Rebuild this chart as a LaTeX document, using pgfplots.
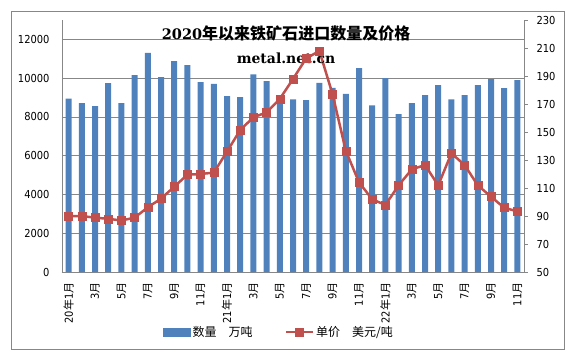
\documentclass[border=0pt]{standalone}
\usepackage{pgfplots}
\pgfplotsset{compat=1.18}
\usepackage{fontspec}
\setmainfont{DejaVu Sans Condensed}
\newfontfamily\cjk{Noto Sans CJK SC}
\newfontfamily\dserif{DejaVu Serif}
\definecolor{barblue}{HTML}{4F81BD}
\definecolor{linered}{HTML}{C0504D}
\definecolor{gridgray}{HTML}{878787}
\newcommand\Y{{\cjk 年}}
\newcommand\M{{\cjk 月}}
\pgfplotsset{
  mylineleg/.style={legend image code/.code={\draw[##1, mark repeat=2, mark phase=2] plot coordinates {(0pt,0pt) (13.5pt,0pt) (27pt,0pt)};}},
  mybarleg/.style={legend image code/.code={\fill[barblue] (0pt,-4pt) rectangle (27pt,4pt);}},
}
\begin{document}
\begin{tikzpicture}
\begin{axis}[name=ax1, scale only axis, width=462pt, height=252pt,
  xmin=-0.5, xmax=34.5, ymin=0, ymax=13000,
  axis x line*=bottom, axis y line*=left,
  axis line style={gridgray, line width=0.8pt, -},
  ybar, bar width=6pt,
  ytick={0,2000,...,12000},
  ymajorgrids, grid style={gridgray, line width=0.8pt},
  major tick length=0pt,
  scaled y ticks=false,
  yticklabel style={/pgf/number format/1000 sep={}, font=\fontsize{11}{11}\selectfont},
  /pgf/number format/assume math mode=true,
  yticklabel shift=9pt,
  xtick={0,2,...,34},
  xticklabels={20\Y1\M, 3\M, 5\M, 7\M, 9\M, 11\M, 21\Y1\M, 3\M, 5\M, 7\M, 9\M, 11\M, 22\Y1\M, 3\M, 5\M, 7\M, 9\M, 11\M},
  xticklabel style={rotate=90, anchor=east, font=\fontsize{11}{11}\selectfont},
  xticklabel shift=7pt,
]
\addplot[fill=barblue, draw=none] coordinates {
(0,8950) (1,8710) (2,8560) (3,9750) (4,8710) (5,10150) (6,11300) (7,10050)
(8,10880) (9,10670) (10,9800) (11,9700) (12,9070) (13,9020) (14,10200) (15,9850)
(16,8780) (17,8900) (18,8870) (19,9760) (20,9500) (21,9190) (22,10520) (23,8600)
(24,10000) (25,8150) (26,8710) (27,9120) (28,9640) (29,8900) (30,9130) (31,9640)
(32,9950) (33,9490) (34,9900)};
\end{axis}
\begin{axis}[scale only axis, width=462pt, height=252pt,
  xmin=-0.5, xmax=34.5, ymin=50, ymax=230,
  axis y line*=right, axis x line=none,
  axis line style={gridgray, line width=0.8pt, -},
  ytick={50,70,...,230},
  tick align=outside, major tick length=4pt,
  tick style={gridgray, line width=0.8pt},
  yticklabel style={font=\fontsize{11}{11}\selectfont},
  /pgf/number format/assume math mode=true,
  yticklabel shift=5pt,
  legend columns=2,
  legend style={draw=none, fill=none, at={(0.47,-0.238)}, anchor=center,
    font=\cjk\fontsize{12}{12}\selectfont,
    /tikz/every even column/.append style={column sep=30pt}},
]
\addlegendimage{mybarleg}
\addlegendentry{数量\hspace{1em}万吨}
\addplot[color=linered, line width=2.5pt, mark=square*, mark size=4pt,
  mark options={solid, fill=linered, line width=0.5pt}, mylineleg]
coordinates {
(0,90) (1,90) (2,88.8) (3,88) (4,86.8) (5,88.8) (6,96.2) (7,102.4)
(8,110.9) (9,119.5) (10,120) (11,121) (12,136) (13,151.4) (14,160.5) (15,164)
(16,173.6) (17,187.9) (18,202.6) (19,207.9) (20,176.9) (21,136.6) (22,114.1) (23,101.9)
(24,97.9) (25,111.9) (26,123.3) (27,126.4) (28,111.9) (29,134.8) (30,126.4) (31,111.9)
(32,103.8) (33,95.9) (34,93.3)};
\addlegendentry{单价\hspace{1em}美元/吨}
\node[font=\cjk\bfseries\fontsize{16}{16}\selectfont] at (rel axis cs:0.485,1) [yshift=-13pt] {{\dserif\bfseries\fontsize{14.5}{14.5}\selectfont 2020}年以来铁矿石进口数量及价格};
\node[font=\dserif\bfseries\fontsize{14}{14}\selectfont] at (rel axis cs:0.485,1) [yshift=-38pt] {metal.net.cn};
\end{axis}
\draw[gridgray, line width=0.8pt] ([xshift=-51pt,yshift=-77pt]ax1.south west) rectangle ([xshift=40pt,yshift=9pt]ax1.north east);
\path[use as bounding box] ([xshift=-62pt,yshift=-85pt]ax1.south west) rectangle ([xshift=48pt,yshift=20pt]ax1.north east);
\end{tikzpicture}
\end{document}
